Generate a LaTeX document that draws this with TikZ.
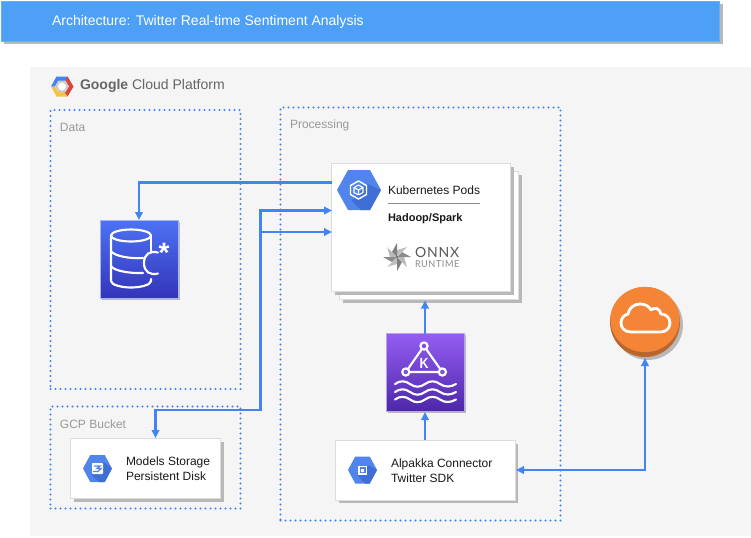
\documentclass[tikz,border=0pt]{standalone}
\usepackage{fontspec}
\setmainfont{Liberation Sans}
\newfontfamily\onnxfont[LetterSpace=6]{Lato}
\usetikzlibrary{arrows.meta,shadows}
\definecolor{flow}{HTML}{4284F3}
\definecolor{panel}{HTML}{F5F5F5}
\definecolor{hexblue}{HTML}{5184EC}
\definecolor{hexdark}{HTML}{3F6FD6}
\definecolor{cardline}{HTML}{DDDDDD}
\definecolor{shade}{HTML}{B8B8B8}
\definecolor{titleblue}{HTML}{4DA0F6}
\definecolor{kafkatop}{HTML}{945DF2}
\definecolor{kafkabot}{HTML}{4D27A8}
\definecolor{kafkaline}{HTML}{B9A3E8}
\definecolor{casstop}{HTML}{4D72F3}
\definecolor{cassbot}{HTML}{3334B9}
\definecolor{cassline}{HTML}{A5B5F0}
\definecolor{cloudfill}{HTML}{F58536}
\definecolor{clouddark}{HTML}{B9662E}
\definecolor{gcpred}{HTML}{DB4437}
\definecolor{gcpyellow}{HTML}{F4C542}
\newcommand{\hexshape}[5]{% cx cy halfw halfh options
  \fill[#5] (#1-#3,#2) -- (#1-#3/2,#2-#4) -- (#1+#3/2,#2-#4) -- (#1+#3,#2) -- (#1+#3/2,#2+#4) -- (#1-#3/2,#2+#4) -- cycle;}
\tikzset{
  sized/.style 2 args={minimum width=#1*0.75pt,minimum height=#2*0.75pt,inner sep=0pt,outer sep=0pt,anchor=north west},
  card/.style={draw=cardline,line width=0.75pt,fill=white,drop shadow={shadow xshift=2.4pt,shadow yshift=-2.4pt,fill=shade,opacity=1}},
  group/.style={draw=flow,line width=1.8pt,line cap=round,dash pattern=on 0pt off 3.75pt},
  label/.style={anchor=west,inner sep=0pt,outer sep=0pt,font=\fontsize{9pt}{10.5pt}\selectfont,text=black!90},
  grouplabel/.style={label,text=black!40},
  flowline/.style={draw=flow,line width=1.6pt},
  tip/.style={-{Triangle[length=6pt,width=5.6pt]}},
  twotip/.style={{Triangle[length=6pt,width=5.6pt]}-{Triangle[length=6pt,width=5.6pt]}},
  whiteline/.style={draw=white,line width=1.6pt,line cap=round,line join=round},
}
\begin{document}
\begin{tikzpicture}[x=0.75pt,y=-0.75pt]
\useasboundingbox (0,0) rectangle (751,537);
\fill[white] (0,0) rectangle (751,537);
% title bar
\node[sized={718.5}{40},fill=titleblue,draw=titleblue!85!white,line width=0.75pt,drop shadow={shadow xshift=2.4pt,shadow yshift=-2.4pt,fill=shade,opacity=1}] (titlebar) at (1,1) {};
\node[label,text=white,font=\fontsize{10.5pt}{12pt}\selectfont] (titletext) at (52,22) {Architecture: Twitter Real-time Sentiment Analysis};
% platform panel
\node[sized={721}{469},fill=panel] (platform) at (30,67) {};
% GCP logo
\fill[flow] (51,86.5) -- (56.5,76.5) -- (67.5,76.5) -- (70,81) -- (65.5,81) -- (58,81) -- (55,86.5) -- cycle;
\fill[gcpred] (67.5,76.5) -- (73.5,86.5) -- (67.5,96.5) -- (64,92) -- (69,86.5) -- (65.5,81) -- cycle;
\fill[gcpyellow] (51,86.5) -- (56.5,96.5) -- (67.5,96.5) -- (64,92) -- (58,92) -- (55,86.5) -- cycle;
\hexshape{62}{86.5}{7}{5.8}{black!20}
\fill[white] (62,86.5) circle (4);
\node[label,text=black!60,font=\fontsize{10.5pt}{12pt}\selectfont] (gcptext) at (80,86) {\textbf{Google} Cloud Platform};
% groups
\node[sized={190}{279},group] (datagroup) at (50.5,110) {};
\node[sized={190}{102},group] (bucketgroup) at (50.5,406.5) {};
\node[sized={280}{413},group] (procgroup) at (280.5,107.5) {};
\node[grouplabel] (datalabel) at (60,127.5) {Data};
\node[grouplabel] (bucketlabel) at (60,424.5) {GCP Bucket};
\node[grouplabel] (proclabel) at (290,125.5) {Processing};
% kubernetes cards
\node[sized={179}{128},card] (k8sback) at (339.5,171.5) {};
\node[sized={179}{128},card] (k8s) at (331.5,163.5) {};
\hexshape{359}{190}{22}{20}{hexblue}
\fill[hexdark] (352,201) -- (367,184) -- (381,190) -- (370,210) -- (361,210) -- cycle;
\draw[draw=white,line width=1.1pt,line join=round] (358.5,181) -- (366.5,185.5) -- (366.5,194.5) -- (358.5,199) -- (350.5,194.5) -- (350.5,185.5) -- cycle;
\draw[draw=white,line width=0.8pt,line join=round] (358.5,185) -- (363,187.5) -- (363,192.5) -- (358.5,195) -- (354,192.5) -- (354,187.5) -- cycle
  (354,187.5) -- (358.5,190) -- (363,187.5) (358.5,190) -- (358.5,195);
\node[label] (k8stext) at (388,190) {Kubernetes Pods};
\coordinate (ruleA) at (388,203.5);
\coordinate (ruleB) at (480,203.5);
\draw[black!45,line width=0.75pt] (ruleA) -- (ruleB);
\node[label,font=\bfseries\fontsize{8.25pt}{10pt}\selectfont] (sparktext) at (388,219) {Hadoop/Spark};
% ONNX logo
\foreach \a/\c in {0/black!45,45/black!25,90/black!50,135/black!28,180/black!45,225/black!25,270/black!50,315/black!28}{
  \fill[\c,rotate around={\a:(397,257)}] (397,257) -- (402,252) -- (411,257) -- cycle;
}
\fill[black!60] (397,257) circle (1.2);
\node[label,text=black!65,font=\onnxfont\fontsize{10.5pt}{12pt}\selectfont] (onnxtext) at (415,252) {ONNX};
\node[label,text=black!45,font=\onnxfont\fontsize{7.2pt}{9pt}\selectfont,xscale=0.95] (runtimetext) at (415,264.5) {RUNTIME};
% kafka icon
\node[sized={78}{78},draw=kafkaline,line width=0.75pt,top color=kafkatop,bottom color=kafkabot,drop shadow={shadow xshift=1.2pt,shadow yshift=-1.2pt,fill=shade,opacity=1}] (kafka) at (386.5,333.5) {};
\draw[whiteline] (424,346) -- (405.8,372) -- (442.4,372) -- cycle;
\filldraw[draw=white,line width=1.6pt,fill=kafkatop!75!kafkabot] (424,346) circle (3.6) (405.8,372) circle (3.6) (442.4,372) circle (3.6);
\node[inner sep=0pt,text=white,font=\bfseries\fontsize{11pt}{12pt}\selectfont,xscale=0.85] (kafkak) at (424,363.5) {K};
\foreach \yy in {384,392,399.5}{
  \draw[whiteline] (395,\yy) .. controls (400,\yy-3.6) and (405,\yy-3.6) .. (410,\yy) .. controls (415,\yy+3.6) and (420,\yy+3.6) .. (425,\yy) .. controls (430,\yy-3.6) and (435,\yy-3.6) .. (440,\yy) .. controls (445,\yy+3.6) and (451,\yy+3) .. (456,\yy);
}
% cassandra icon
\node[sized={78}{78},draw=cassline,line width=0.75pt,top color=casstop,bottom color=cassbot,drop shadow={shadow xshift=1.2pt,shadow yshift=-1.2pt,fill=shade,opacity=1}] (cassandra) at (100.5,220.5) {};
\draw[whiteline] (131,235.5) ellipse (20 and 6);
\draw[whiteline] (151,235.5) -- (151,252);
\draw[whiteline] (111,235.5) -- (111,281) .. controls (111,285) and (122,287.5) .. (131,287.5) .. controls (140,287.5) and (151,285) .. (151,281) -- (151,279);
\draw[whiteline] (111,251) .. controls (114,256) and (130,259) .. (143,258);
\draw[whiteline] (111,266) .. controls (114,271) and (130,273.5) .. (143,273);
\draw[whiteline] (158,252.5) .. controls (150,250.5) and (144,254) .. (144,263) .. controls (144,272) and (150,275.5) .. (158,273.5);
\node[inner sep=0pt,text=white,font=\bfseries\fontsize{21pt}{22pt}\selectfont] (cassstar) at (164,253) {*};
% models storage
\node[sized={150}{60},card] (models) at (70.5,438.5) {};
\hexshape{97.5}{468.5}{14.5}{13.5}{hexblue}
\fill[hexdark] (92,475) -- (104,462) -- (112,468.5) -- (104.7,482) -- (99,482) -- cycle;
\fill[white,rounded corners=0.6pt] (92,463) rectangle (103,474);
\draw[hexblue,line width=1pt] (94,466) -- (100,466) -- (97,468.5) -- (101,468.5) -- (98,471.5) -- (93,471.5);
\node[label] (modelsA) at (126,462) {Models Storage};
\node[label] (modelsB) at (126,476) {Persistent Disk};
% alpakka
\node[sized={179.5}{59.5},card] (alpakka) at (335.5,440.5) {};
\hexshape{362.5}{470}{14.5}{13.5}{hexblue}
\fill[hexdark] (358,476) -- (368,465) -- (377,470) -- (369.7,483.5) -- (365,483.5) -- cycle;
\fill[white] (358,465.5) rectangle (367,474.5);
\fill[hexblue] (359.5,467) rectangle (365.5,473);
\fill[white] (361,468.5) rectangle (364,471.5);
\node[label] (alpakkaA) at (391,464) {Alpakka Connector};
\node[label] (alpakkaB) at (391,478) {Twitter SDK};
% cloud
\node[circle,minimum size=70*0.75pt,inner sep=0pt,outer sep=0pt,fill=clouddark,drop shadow={shadow xshift=2.2pt,shadow yshift=-2.2pt,fill=shade,opacity=1}] (cloud) at (645,322) {};
\fill[cloudfill] (645,319.5) ellipse (34.6 and 32.6);
\draw[draw=white,line width=2.1pt,line join=round] (631,332) .. controls (624,332) and (621,327) .. (621,323) .. controls (621,318) and (624,315) .. (628,314) .. controls (629,308) and (634,304) .. (640,304) .. controls (645,304) and (649,306) .. (651,310) .. controls (654,307) and (660,308) .. (661,314) .. controls (666,314) and (670,318) .. (670,323) .. controls (670,328) and (666,332) .. (661,332) -- cycle;
% connectors
\coordinate (k8sIn0) at (332,182.5);
\coordinate (k8sIn1) at (332,210.5);
\coordinate (k8sIn2) at (332,232);
\coordinate (busTop) at (260.5,210.5);
\coordinate (busMid) at (260.5,232);
\coordinate (busLow) at (260.5,410);
\coordinate (modelsBend) at (155.5,410);
\coordinate (modelsTop) at (155.5,438);
\coordinate (cassBend) at (139,182.5);
\coordinate (cassTop) at (139,220);
\coordinate (kafkaUp) at (425,333.5);
\coordinate (k8sUp) at (425,300.5);
\coordinate (alpakkaUp) at (425,440);
\coordinate (kafkaDown) at (425,412);
\coordinate (alpakkaSide) at (516,470);
\coordinate (cloudBend) at (645,470);
\coordinate (cloudDown) at (645,358);
\draw[flowline,tip] (k8sIn0) -- (cassBend) -- (cassTop);
\draw[flowline,twotip] (k8sIn1) -- (busTop) -- (busLow) -- (modelsBend) -- (modelsTop);
\draw[flowline,tip] (busMid) -- (k8sIn2);
\draw[flowline,tip] (kafkaUp) -- (k8sUp);
\draw[flowline,tip] (alpakkaUp) -- (kafkaDown);
\draw[flowline,twotip] (alpakkaSide) -- (cloudBend) -- (cloudDown);
\end{tikzpicture}
\end{document}
